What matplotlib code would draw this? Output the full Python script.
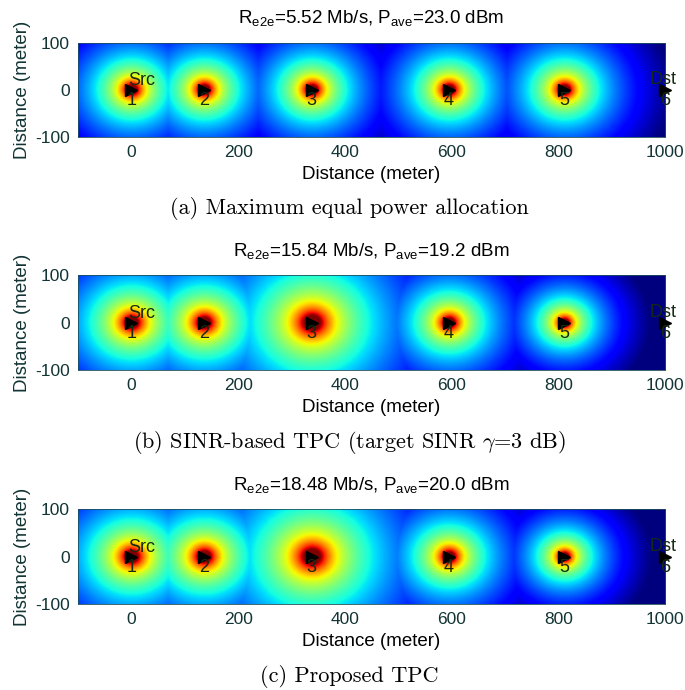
import numpy as np
import matplotlib
matplotlib.use("Agg")
import matplotlib.pyplot as plt

plt.rcParams['font.family'] = ['Liberation Sans', 'DejaVu Sans']
plt.rcParams['mathtext.fontset'] = 'custom'
plt.rcParams['mathtext.rm'] = 'Liberation Sans'
plt.rcParams['mathtext.it'] = 'Liberation Sans:italic'
plt.rcParams['axes.unicode_minus'] = False

# node positions (m)
node_x = [0, 136, 338, 595, 811, 1000]
node_y = [0, 0, 0, 0, 0, 0]
node_lbl = ['1', '2', '3', '4', '5', '6']

# transmit levels per relay (dBm, read from the size of the hot spots); node 6 does not send
pow_a = [23.0, 23.0, 23.0, 23.0, 23.0]
pow_b = [25.5, 25.5, 29.5, 23.3, 20.0]
pow_c = [25.7, 25.7, 29.8, 23.5, 20.2]

titles = [r'R$_{\rm e2e}$=5.52 Mb/s, P$_{\rm ave}$=23.0 dBm',
          r'R$_{\rm e2e}$=15.84 Mb/s, P$_{\rm ave}$=19.2 dBm',
          r'R$_{\rm e2e}$=18.48 Mb/s, P$_{\rm ave}$=20.0 dBm']
captions = ['(a) Maximum equal power allocation',
            r'(b) SINR-based TPC (target SINR $\gamma$=3 dB)',
            '(c) Proposed TPC']
powers = [pow_a, pow_b, pow_c]

alpha = 3.0
vmin, vmax = -46.2, -6.2

gx = np.arange(-100, 1001, 2.0)
gy = np.arange(-100, 101, 2.0)
X, Y = np.meshgrid(gx, gy)

fig = plt.figure(figsize=(6.85, 6.9), dpi=100)
bottoms = [0.8014, 0.4638, 0.1246]
cap_y = [1 - 208/690, 1 - 443/690, 1 - 677/690]
txt_col = '#142a14'

for k in range(3):
    ax = fig.add_axes([0.1139, bottoms[k], 0.857, 0.137])
    P = powers[k]
    field = np.full(X.shape, -200.0)
    for i in range(len(P)):
        d = np.sqrt((X - node_x[i])**2 + (Y - node_y[i])**2)
        d = np.maximum(d, 1.0)
        field = np.maximum(field, P[i] - 10*alpha*np.log10(d))
    ax.imshow(field, extent=[-100, 1000, -100, 100], origin='lower', aspect='auto',
              cmap='jet', vmin=vmin, vmax=vmax, interpolation='bilinear')
    ax.plot(node_x, node_y, '>', color='black', ms=8, clip_on=False, zorder=3)
    for i in range(len(node_x)):
        ax.text(node_x[i], node_y[i] - 23, node_lbl[i], ha='center', va='center',
                fontsize=13, color=txt_col, clip_on=False, zorder=4)
    ax.text(-6, 20, 'Src', ha='left', va='center', fontsize=13, color=txt_col, zorder=4)
    ax.text(997, 22, 'Dst', ha='center', va='center', fontsize=13, color=txt_col,
            clip_on=False, zorder=4)
    ax.set_xlim(-100, 1000)
    ax.set_ylim(-100, 100)
    ax.set_xticks([0, 200, 400, 600, 800, 1000])
    ax.set_yticks([-100, 0, 100])
    ax.tick_params(length=0, labelsize=12.5, pad=6, colors='#123434')
    for s in ax.spines.values():
        s.set_linewidth(0.6)
        s.set_color('#1d4f5a')
    ax.set_xlabel('Distance (meter)', fontsize=13.5, labelpad=4)
    ax.set_ylabel('Distance (meter)', fontsize=13.5, labelpad=3, color='#123434')
    ax.set_title(titles[k], fontsize=13.5, pad=14)
    fig.text(0.51, cap_y[k], captions[k], ha='center', va='center', fontsize=16,
             family='cmr10', math_fontfamily='cm')

fig.savefig('out.png', dpi=100)
